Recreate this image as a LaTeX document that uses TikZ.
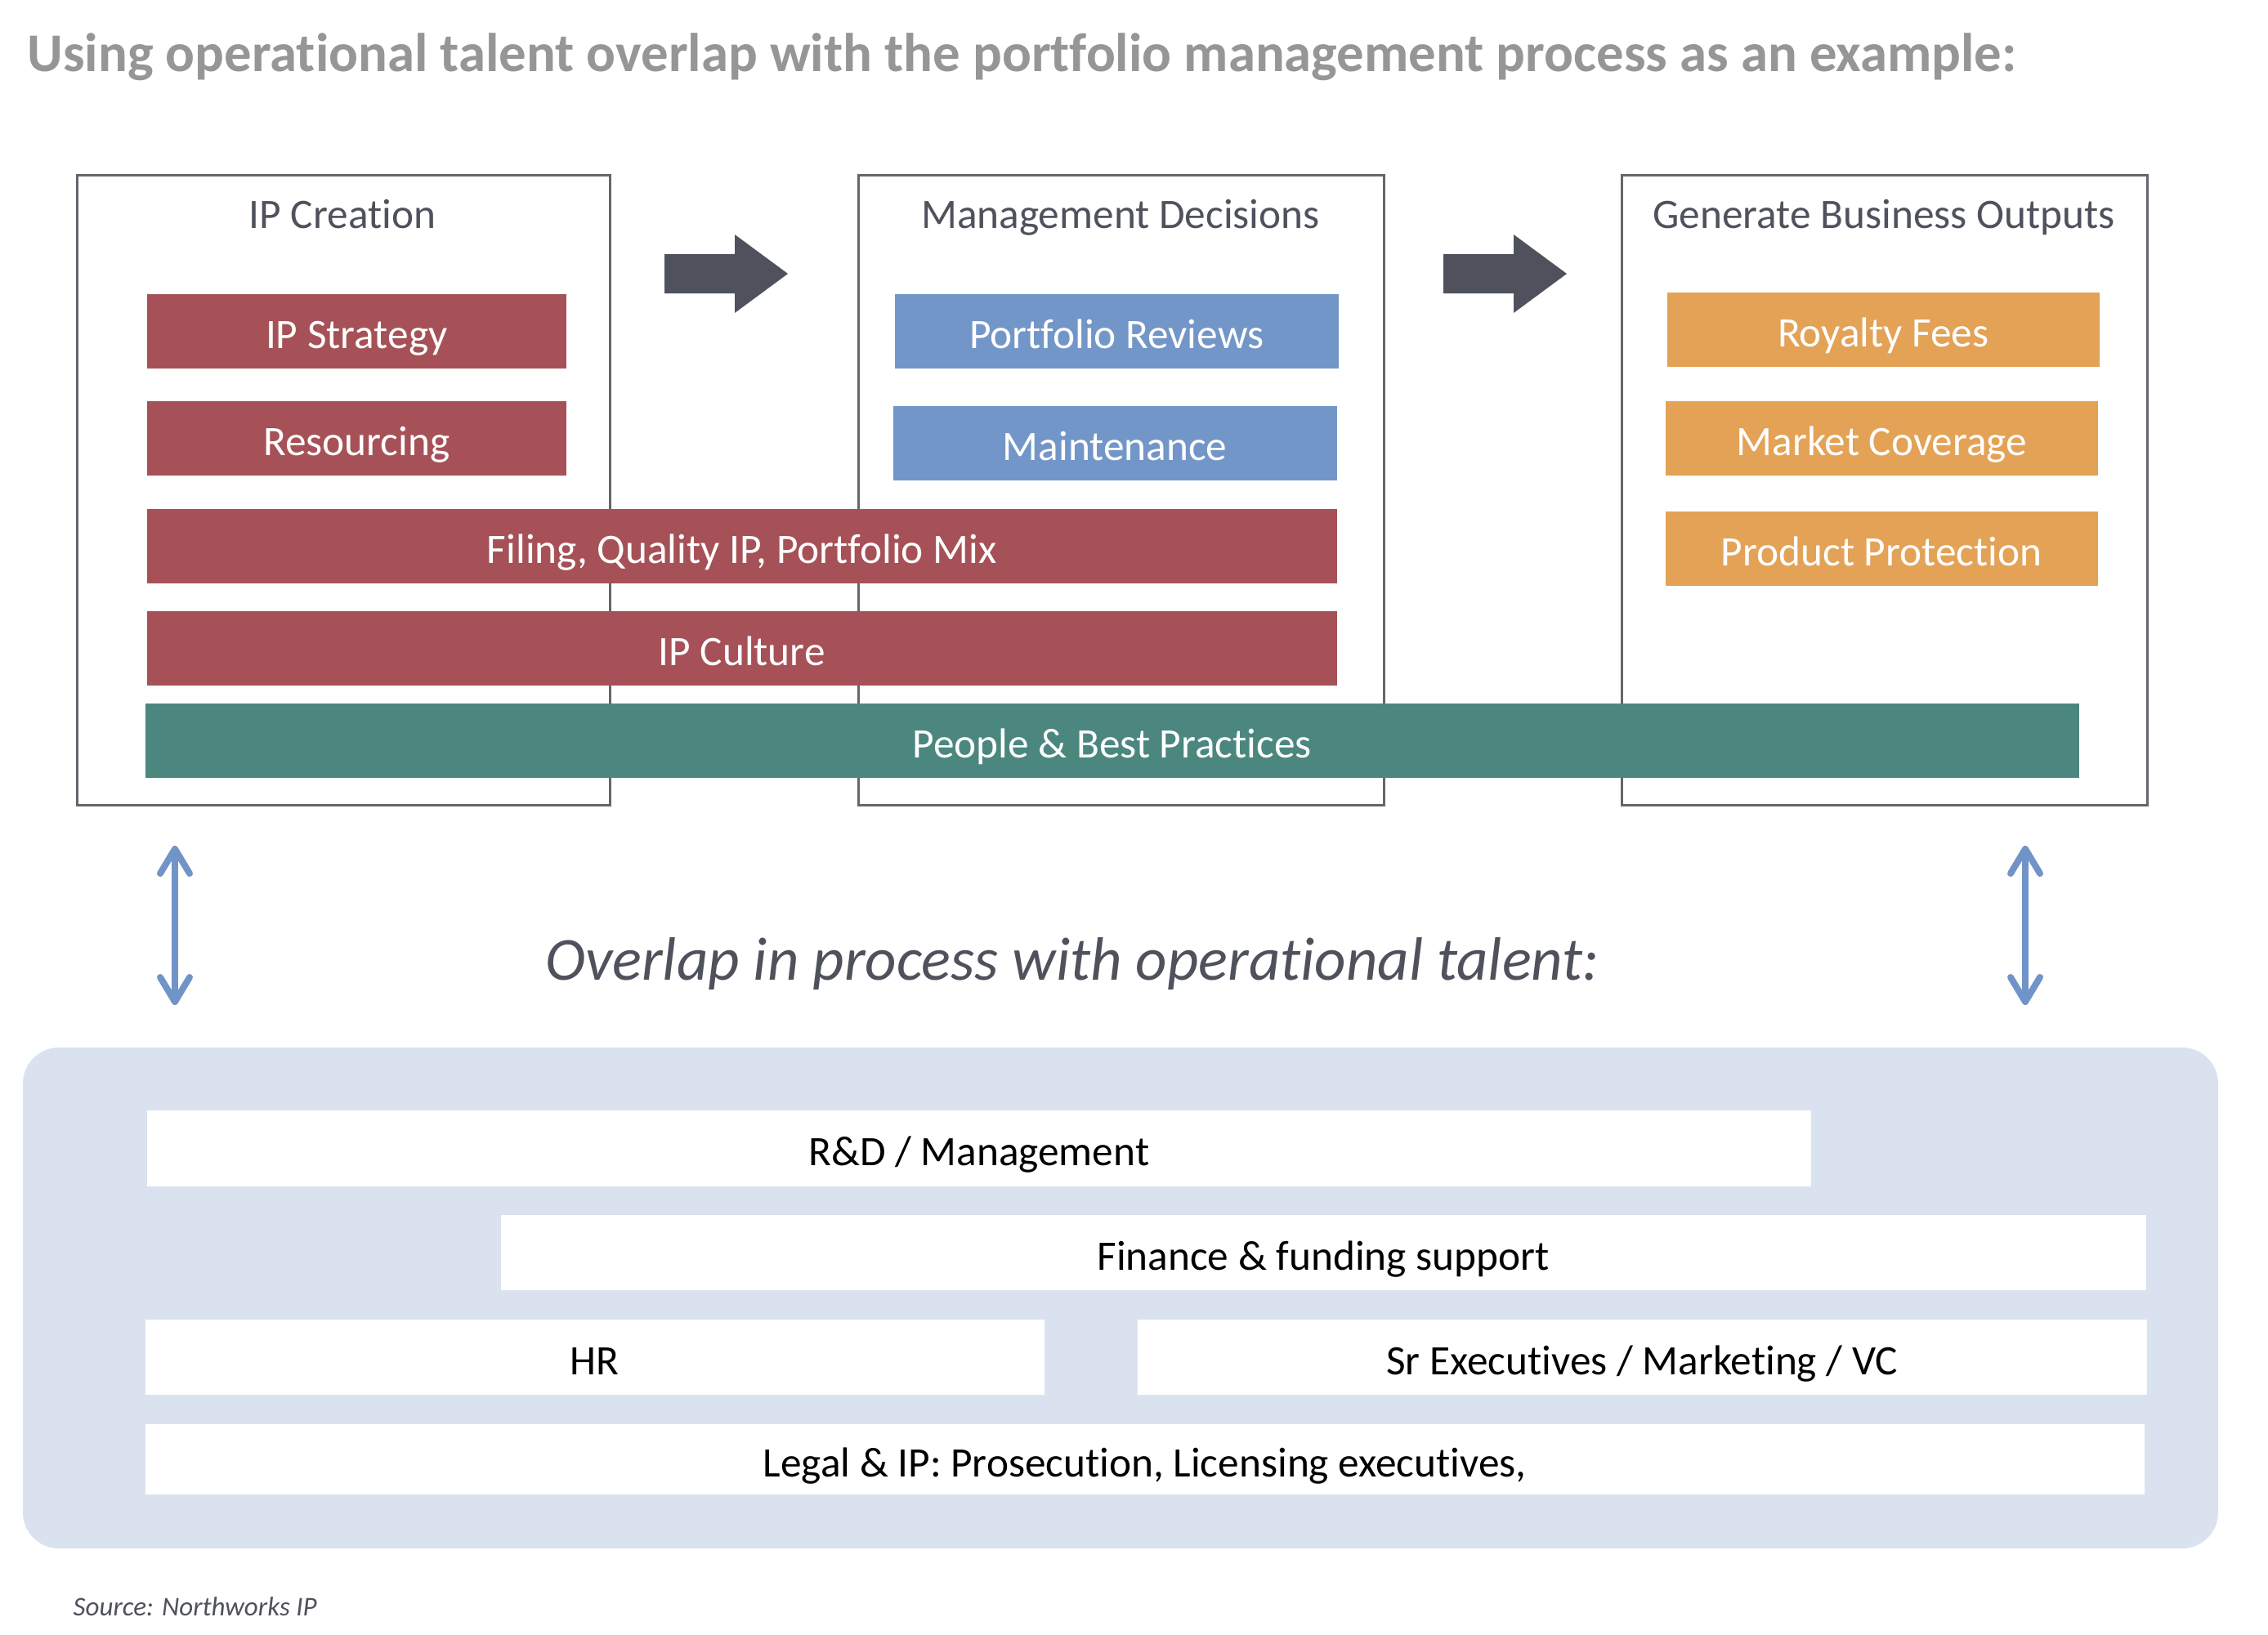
\documentclass[tikz,border=0pt]{standalone}
\usepackage{fontspec}
\setmainfont{Carlito}[RawFeature={-liga;-clig;-calt;-dlig}]
\usetikzlibrary{arrows.meta}
\definecolor{ipred}{HTML}{A65157}
\definecolor{ipblue}{HTML}{7396C8}
\definecolor{iporange}{HTML}{E3A256}
\definecolor{ipteal}{HTML}{4B877F}
\definecolor{panelblue}{HTML}{DBE2EF}
\definecolor{slate}{HTML}{4F525C}
\definecolor{framegray}{HTML}{63666C}
\definecolor{headgray}{HTML}{969696}
\definecolor{linkblue}{HTML}{7194C8}
\begin{document}
\begin{tikzpicture}[x=1cm,y=-1cm,
  stage/.style={draw=framegray,line width=0.03cm,anchor=north west,inner sep=0,minimum height=7.71cm},
  stagetitle/.style={anchor=base,inner sep=0,text=slate,font=\fontsize{14.6}{18}\selectfont},
  bar/.style={anchor=north west,inner sep=0,minimum height=0.91cm,text height=0.55cm,text depth=0.12cm,font=\fontsize{14.6}{18}\selectfont},
  redbar/.style={bar,fill=ipred,text=white},
  bluebar/.style={bar,fill=ipblue,text=white},
  orangebar/.style={bar,fill=iporange,text=white},
  talent/.style={bar,fill=white,text=black},
  link/.style={linkblue,line width=0.08cm,{Straight Barb[round,length=0.3cm,width=0.36cm]}-{Straight Barb[round,length=0.3cm,width=0.36cm]}}]
\useasboundingbox (0,0) rectangle (27.75,20);
\node[anchor=base west,inner sep=0,text=headgray,font=\bfseries\fontsize{19}{23}\selectfont] (heading) at (0.33,0.87) {Using operational talent overlap with the portfolio management process as an example:};
\node[stage,minimum width=6.52cm] (create) at (0.93,2.13) {};
\node[stage,minimum width=6.43cm] (manage) at (10.49,2.13) {};
\node[stage,minimum width=6.43cm] (output) at (19.83,2.13) {};
\node[stagetitle] (createT) at (4.19,2.79) {IP Creation};
\node[stagetitle] (manageT) at (13.71,2.79) {Management Decisions};
\node[stagetitle] (outputT) at (23.05,2.79) {Generate Business Outputs};
\foreach \dx in {0,9.53}
  \fill[slate,xshift=\dx cm] (8.13,3.11) -- (8.99,3.11) -- (8.99,2.87) -- (9.64,3.35) -- (8.99,3.83) -- (8.99,3.59) -- (8.13,3.59) -- cycle;
\node[redbar,minimum width=5.13cm] (strategy) at (1.79,3.59) {IP Strategy};
\node[redbar,minimum width=5.13cm] (resourcing) at (1.79,4.90) {Resourcing};
\node[redbar,minimum width=14.56cm] (filing) at (1.79,6.22) {Filing, Quality IP, Portfolio Mix};
\node[redbar,minimum width=14.56cm] (culture) at (1.79,7.47) {IP Culture};
\node[bar,fill=ipteal,text=white,minimum width=23.66cm] (people) at (1.77,8.60) {People \& Best Practices};
\node[bluebar,minimum width=5.43cm] (reviews) at (10.94,3.59) {Portfolio Reviews};
\node[bluebar,minimum width=5.43cm] (maintenance) at (10.92,4.96) {Maintenance};
\node[orangebar,minimum width=5.29cm] (royalty) at (20.39,3.57) {Royalty Fees};
\node[orangebar,minimum width=5.29cm] (coverage) at (20.37,4.90) {Market Coverage};
\node[orangebar,minimum width=5.29cm] (protection) at (20.37,6.25) {Product Protection};
\coordinate (leftTop) at (2.14,10.35);
\coordinate (leftBot) at (2.14,12.30);
\coordinate (rightTop) at (24.78,10.35);
\coordinate (rightBot) at (24.78,12.30);
\draw[link] (leftTop) -- (leftBot);
\draw[link] (rightTop) -- (rightBot);
\node[anchor=base,inner sep=0,text=slate,font=\itshape\fontsize{21.3}{26}\selectfont] (overlap) at (13.12,11.99) {Overlap in process with operational talent:};
\fill[panelblue,rounded corners=0.44cm] (0.28,12.82) rectangle (27.14,18.95);
\node[talent,minimum width=20.36cm,minimum height=0.93cm] (rnd) at (1.79,13.58) {R\&D / Management};
\node[talent,minimum width=20.13cm,minimum height=0.92cm] (finance) at (6.12,14.86) {Finance \& funding support};
\node[talent,minimum width=11.00cm,minimum height=0.92cm] (hr) at (1.77,16.14) {HR};
\node[talent,minimum width=12.35cm,minimum height=0.92cm] (execs) at (13.91,16.14) {Sr Executives / Marketing / VC};
\node[talent,minimum width=24.46cm,minimum height=0.86cm] (legal) at (1.77,17.42) {Legal \& IP: Prosecution, Licensing executives,};
\node[anchor=base west,inner sep=0,text=slate,font=\itshape\fontsize{9.4}{12}\selectfont] (source) at (0.89,19.77) {Source: Northworks IP};
\end{tikzpicture}
\end{document}
